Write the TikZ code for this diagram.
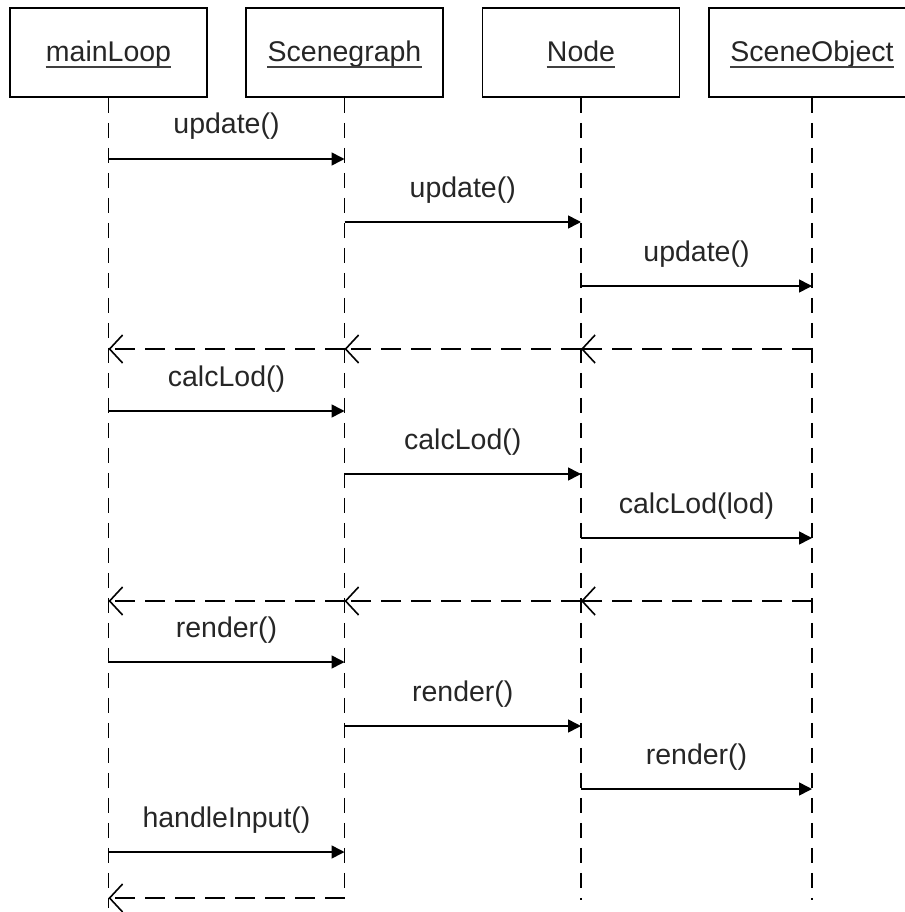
\documentclass[tikz,border=0pt]{standalone}
\usepackage{fontspec}
\setmainfont{Liberation Sans}
\usetikzlibrary{arrows.meta}
\begin{document}
\begin{tikzpicture}[x=1pt,y=-1pt,
  every node/.style={font=\fontsize{28.5}{34}\selectfont, text=black!85},
  objbox/.style={draw=black, line width=1.8pt, fill=white, minimum width=197pt,
                 minimum height=89pt, inner sep=0pt},
  objname/.style={anchor=base, inner sep=0pt, yshift=-9.5pt},
  nameline/.style={line width=1.5pt, black!75},
  lifeline/.style={line width=1.8pt, dash pattern=on 15pt off 10pt},
  call/.style={line width=1.6pt, -{Triangle[length=13pt,width=13pt]}},
  reply/.style={line width=1.6pt, dash pattern=on 20pt off 10pt,
                -{Straight Barb[length=13pt,width=28pt]}},
  msglabel/.style={anchor=base, inner sep=0pt, yshift=25pt}
]
\useasboundingbox (0,0) rectangle (904,912);

% object boxes
\node[objbox] (ml) at (108.5,52.5) {};
\node[objbox] (sg) at (344.5,52.5) {};
\node[objbox] (nd) at (581,52.5)   {};
\node[objbox, minimum width=206pt] (so) at (812,52.5) {};

% underlined object names
\node[objname] (mlt) at (ml.center) {mainLoop};
\node[objname] (sgt) at (sg.center) {Scenegraph};
\node[objname] (ndt) at (nd.center) {Node};
\node[objname] (sot) at (so.center) {SceneObject};
\foreach \t in {mlt,sgt,ndt,sot}
  \draw[nameline] ([yshift=-5pt]\t.base west) -- ([yshift=-5pt]\t.base east);

% lifelines
\draw[lifeline] (ml.south) -- (ml |- 0,908);
\draw[lifeline] (sg.south) -- (sg |- 0,898);
\draw[lifeline] (nd.south) -- (nd |- 0,900);
\draw[lifeline] (so.south) -- (so |- 0,900);

% update pass
\draw[call] (ml |- 0,159) -- node[msglabel] {update()} (sg |- 0,159);
\draw[call] (sg |- 0,222) -- node[msglabel] {update()} (nd |- 0,222);
\draw[call] (nd |- 0,286) -- node[msglabel] {update()} (so |- 0,286);
\draw[reply] (so |- 0,349) -- (nd |- 0,349);
\draw[reply] (nd |- 0,349) -- (sg |- 0,349);
\draw[reply] (sg |- 0,349) -- (ml |- 0,349);

% level-of-detail pass
\draw[call] (ml |- 0,411) -- node[msglabel] {calcLod()} (sg |- 0,411);
\draw[call] (sg |- 0,474) -- node[msglabel] {calcLod()} (nd |- 0,474);
\draw[call] (nd |- 0,538) -- node[msglabel] {calcLod(lod)} (so |- 0,538);
\draw[reply] (so |- 0,601) -- (nd |- 0,601);
\draw[reply] (nd |- 0,601) -- (sg |- 0,601);
\draw[reply] (sg |- 0,601) -- (ml |- 0,601);

% render pass
\draw[call] (ml |- 0,662) -- node[msglabel] {render()} (sg |- 0,662);
\draw[call] (sg |- 0,726) -- node[msglabel] {render()} (nd |- 0,726);
\draw[call] (nd |- 0,789) -- node[msglabel] {render()} (so |- 0,789);

% input handling
\draw[call] (ml |- 0,852) -- node[msglabel] {handleInput()} (sg |- 0,852);
\draw[reply] (sg |- 0,898) -- (ml |- 0,898);
\end{tikzpicture}
\end{document}
